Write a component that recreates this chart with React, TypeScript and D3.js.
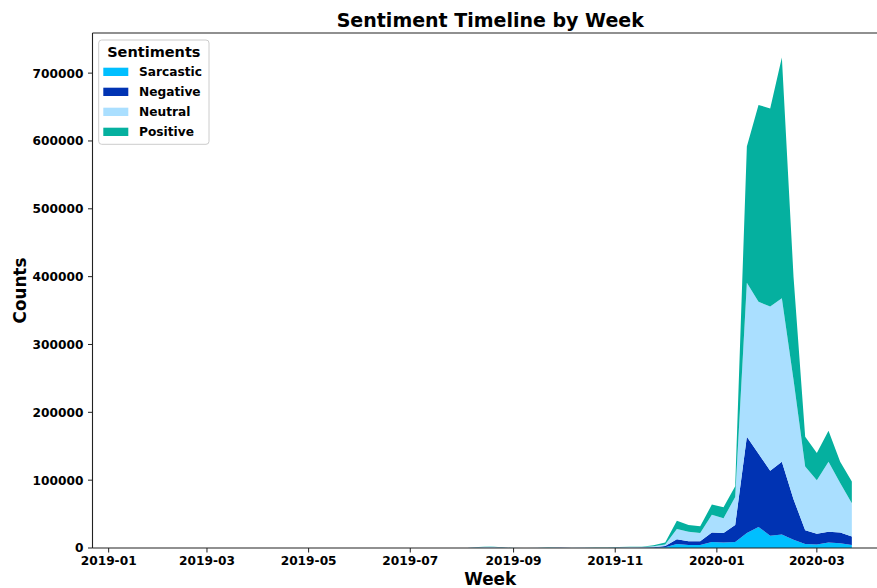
import React from "react";
import * as d3 from "d3";

// weekly buckets (Sundays), first and last week
const firstWeek = "2019-01-13";
const lastWeek = "2020-03-22";

const keys = ["Sarcastic", "Negative", "Neutral", "Positive"];
const colors = ["#00BFFF", "#0033B3", "#AADFFF", "#05B09F"];

// counts per week, 63 weeks
const sarcastic = [
  0, 0, 0, 0, 0, 0, 0, 0, 0, 0,
  0, 0, 0, 0, 0, 0, 0, 0, 0, 0,
  0, 0, 0, 0, 0, 0, 0, 0, 0, 0,
  100, 150, 100, 0, 0, 0, 50, 100, 50, 50,
  50, 50, 100, 200, 300, 500,
  1000, 6000, 4500, 4500, 9000, 8000, 9000, 22000, 31000, 18000, 20000, 12000, 6000, 5000, 8000, 7000, 4500,
];
const negative = [
  0, 0, 0, 0, 0, 0, 0, 0, 0, 0,
  0, 0, 0, 0, 0, 0, 0, 0, 0, 0,
  0, 0, 0, 0, 0, 0, 0, 0, 0, 0,
  100, 200, 100, 0, 0, 0, 100, 100, 50, 50,
  100, 100, 200, 300, 300, 500,
  2000, 7000, 5500, 5500, 14000, 14000, 25000, 142000, 108000, 96000, 107000, 60000, 20000, 16000, 16000, 16000, 12500,
];
const neutral = [
  0, 0, 0, 0, 0, 0, 0, 0, 0, 0,
  0, 0, 0, 0, 0, 0, 0, 0, 0, 0,
  0, 0, 0, 0, 0, 0, 0, 0, 0, 0,
  800, 1400, 600, 200, 100, 200, 700, 500, 300, 600,
  400, 300, 700, 1000, 900, 1500,
  2000, 15000, 14000, 12000, 26000, 22000, 41000, 227000, 224000, 242000, 241000, 176000, 94000, 79000, 103000, 73000, 49000,
];
const positive = [
  0, 0, 0, 0, 0, 0, 0, 0, 0, 0,
  0, 0, 0, 0, 0, 0, 0, 0, 0, 0,
  0, 0, 0, 0, 0, 0, 0, 0, 0, 0,
  300, 500, 200, 100, 0, 100, 200, 200, 100, 200,
  200, 200, 400, 500, 500, 1500,
  3000, 12000, 10000, 10000, 15000, 16000, 16000, 201000, 290000, 292000, 355000, 152000, 44000, 40000, 46000, 31000, 32000,
];

const yTicks = [0, 100000, 200000, 300000, 400000, 500000, 600000, 700000];

const W = 877;
const H = 588;
const margin = { left: 92.5, right: 888, top: 33, bottom: 548 };
const font = "'DejaVu Sans', sans-serif";

export default function App() {
  const start = new Date(firstWeek + "T00:00:00Z");
  const end = new Date(lastWeek + "T00:00:00Z");
  const weeks = d3.utcSunday.range(start, d3.utcDay.offset(end, 1));

  const rows = weeks.map((d, i) => ({
    date: d,
    Sarcastic: sarcastic[i],
    Negative: negative[i],
    Neutral: neutral[i],
    Positive: positive[i],
  }));

  const stacked = d3.stack<any>().keys(keys)(rows);

  // matplotlib-like 5% padding on x
  const span = +end - +start;
  const x = d3
    .scaleUtc()
    .domain([new Date(+start - 0.05 * span), new Date(+end + 0.05 * span)])
    .range([margin.left, margin.right]);

  const ymax = d3.max(stacked[stacked.length - 1], (d) => d[1]) as number;
  const y = d3
    .scaleLinear()
    .domain([0, ymax * 1.05])
    .range([margin.bottom, margin.top]);

  const area = d3
    .area<any>()
    .x((d) => x(d.data.date))
    .y0((d) => y(d[0]))
    .y1((d) => y(d[1]));

  const xTicks = d3.utcMonth.every(2)!.range(new Date("2019-01-01T00:00:00Z"), new Date("2020-04-01T00:00:00Z"));
  const fmt = d3.utcFormat("%Y-%m");

  const cx = (margin.left + margin.right) / 2;

  return (
    <svg width={W} height={H} style={{ position: "absolute", left: 0, top: 0, background: "#fff" }} fontFamily={font}>
      <g>
        {stacked.map((s, i) => (
          <path key={s.key} d={area(s) || ""} fill={colors[i]} />
        ))}
      </g>

      {/* spines */}
      <line x1={margin.left} x2={margin.left} y1={margin.top} y2={margin.bottom} stroke="#222" strokeWidth={1.1} />
      <line x1={margin.left} x2={margin.right} y1={margin.bottom} y2={margin.bottom} stroke="#222" strokeWidth={1.1} />
      <line x1={margin.left} x2={margin.right} y1={margin.top} y2={margin.top} stroke="#222" strokeWidth={1.1} />
      <line x1={margin.right} x2={margin.right} y1={margin.top} y2={margin.bottom} stroke="#222" strokeWidth={1.1} />

      {/* y axis */}
      {yTicks.map((t) => (
        <g key={t} transform={`translate(0,${y(t)})`}>
          <line x1={margin.left - 4.5} x2={margin.left} stroke="#222" strokeWidth={1} />
          <text x={margin.left - 9} dy="0.36em" textAnchor="end" fontSize={12.2} fontWeight="bold">
            {t}
          </text>
        </g>
      ))}

      {/* x axis */}
      {xTicks.map((t) => (
        <g key={+t} transform={`translate(${x(t)},0)`}>
          <line y1={margin.bottom} y2={margin.bottom + 4.5} stroke="#222" strokeWidth={1} />
          <text y={margin.bottom + 17} textAnchor="middle" fontSize={12.2} fontWeight="bold">
            {fmt(t)}
          </text>
        </g>
      ))}

      <text x={cx} y={27} textAnchor="middle" fontSize={19} fontWeight="bold">
        Sentiment Timeline by Week
      </text>
      <text x={cx} y={584.5} textAnchor="middle" fontSize={16.8} fontWeight="bold">
        Week
      </text>
      <text transform={`translate(25.5,${(margin.top + margin.bottom) / 2}) rotate(-90)`} textAnchor="middle" fontSize={16.8} fontWeight="bold">
        Counts
      </text>

      {/* legend */}
      <g>
        <rect x={98.7} y={40} width={110.3} height={104.3} rx={3} fill="#fff" fillOpacity={0.8} stroke="#cccccc" strokeWidth={1} />
        <text x={153.8} y={56.5} textAnchor="middle" fontSize={14.5} fontWeight="bold">
          Sentiments
        </text>
        {keys.map((k, i) => (
          <g key={k} transform={`translate(0,${67.7 + i * 20})`}>
            <rect x={103.3} y={0} width={25} height={8.3} fill={colors[i]} />
            <text x={139} y={4.15} dy="0.36em" fontSize={12.2} fontWeight="bold">
              {k}
            </text>
          </g>
        ))}
      </g>
    </svg>
  );
}
